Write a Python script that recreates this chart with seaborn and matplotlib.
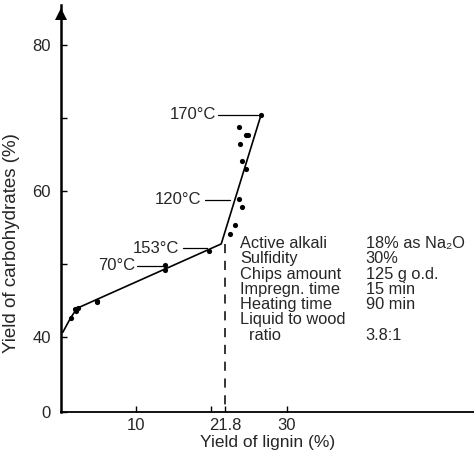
import matplotlib
matplotlib.use("Agg")
import matplotlib.pyplot as plt
import seaborn as sns
import pandas as pd

# ---- data ----
lignin_pts = [1.35, 1.9, 2.1, 2.3, 4.8, 4.9, 13.8, 13.8, 19.7,
              22.45, 23.1, 24.0, 23.7, 24.6, 24.0, 23.8, 24.9, 24.6, 23.7, 26.56]
carb_pts = [42.7, 43.9, 43.6, 44.1, 45.0, 44.9, 49.2, 49.9, 51.9,
            54.1, 55.4, 57.9, 58.9, 63.0, 64.2, 66.5, 67.7, 67.7, 68.8, 70.4]

fit_lignin = [0.3, 1.35, 2.2, 21.3, 26.56]
fit_carb = [40.7, 42.7, 44.0, 52.8, 70.4]

temp_labels = ["170°C", "120°C", "153°C", "70°C"]
temp_carb = [70.5, 58.85, 52.2, 49.8]
temp_text_x = [20.6, 18.7, 15.7, 9.9]
temp_line_x0 = [20.85, 19.2, 16.3, 10.15]
temp_line_x1 = [26.2, 22.45, 19.4, 13.8]

cond_names = ["Active alkali", "Sulfidity", "Chips amount", "Impregn. time",
              "Heating time", "Liquid to wood", "  ratio"]
cond_values = ["18% as Na₂O", "30%", "125 g o.d.", "15 min",
               "90 min", "", "3.8:1"]

x_ticks = [10, 21.8, 30]
x_ticklabels = ["10", "21.8", "30"]
y_ticks = [29.8, 40, 60, 80]
y_ticklabels = ["0", "40", "60", "80"]
break_x = 21.8

# ---- plot ----
sns.set_style("ticks")
plt.rcParams["font.family"] = ["Liberation Sans", "DejaVu Sans"]

fig = plt.figure(figsize=(4.74, 4.54), dpi=100)
ax = fig.add_axes([60.5 / 474, 42 / 454, 1 - 60.5 / 474, 407 / 454])

pts = pd.DataFrame({"lignin": lignin_pts, "carb": carb_pts})
fit = pd.DataFrame({"lignin": fit_lignin, "carb": fit_carb})

sns.lineplot(data=fit, x="lignin", y="carb", sort=False, color="black",
             lw=1.2, ax=ax, estimator=None)
sns.scatterplot(data=pts, x="lignin", y="carb", color="black", s=14,
                edgecolor="black", linewidth=0, ax=ax, zorder=3)

ax.plot([break_x, break_x], [fit_carb[3], 29.8], color="black", lw=1.1,
        ls=(0, (6, 5)))

fs = 12
for lab, yv, tx, x0, x1 in zip(temp_labels, temp_carb, temp_text_x,
                                temp_line_x0, temp_line_x1):
    ax.text(tx, yv, lab, ha="right", va="center", fontsize=fs)
    ax.plot([x0, x1], [yv, yv], color="black", lw=0.9)

row0 = 52.85
row_step = 15.4 / 7.375
for i, (n, v) in enumerate(zip(cond_names, cond_values)):
    yy = row0 - i * row_step
    ax.text(23.85, yy, n, ha="left", va="center", fontsize=11.8)
    if v:
        ax.text(40.45, yy, v, ha="left", va="center", fontsize=11.8)

ax.set_xlim(0, 54.8)
ax.set_ylim(29.8, 85.5)

ax.set_xticks(x_ticks)
ax.set_xticklabels(x_ticklabels, fontsize=fs)
ax.set_xticks([20], minor=True)
ax.set_yticks(y_ticks)
ax.set_yticklabels(y_ticklabels, fontsize=fs)
ax.set_yticks([50, 70], minor=True)
ax.tick_params(axis="both", which="both", direction="in", length=4,
               width=1, color="black")
ax.tick_params(axis="x", pad=4)
ax.tick_params(axis="y", pad=7)

ax.set_xlabel("Yield of lignin (%)", fontsize=12.5, labelpad=2)
ax.set_ylabel("Yield of carbohydrates (%)", fontsize=13.5, labelpad=5)
ax.yaxis.set_label_coords(-0.098, 0.414)

for s in ["top", "right"]:
    ax.spines[s].set_visible(False)
ax.spines["left"].set_linewidth(1.8)
ax.spines["bottom"].set_linewidth(1.3)
ax.spines["left"].set_color("black")
ax.spines["bottom"].set_color("black")

ax.plot([0], [84.3], marker="^", ms=8, color="black", clip_on=False,
        markeredgewidth=0)

fig.savefig("out.png", dpi=100, facecolor="white")
